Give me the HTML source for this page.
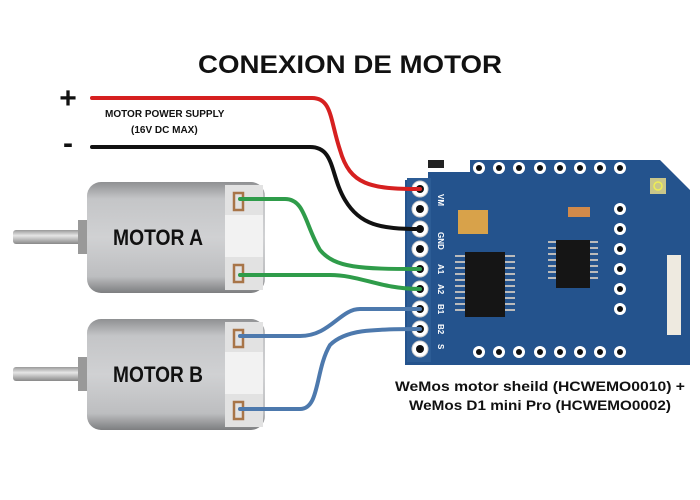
<!DOCTYPE html>
<html><head><style>
body{margin:0;background:#fff;width:700px;height:500px;overflow:hidden}
svg{display:block}
.t{font-family:"Liberation Sans",sans-serif;font-weight:bold}
</style></head><body>
<svg width="700" height="500" viewBox="0 0 700 500">
<defs>
<linearGradient id="mg" x1="0" y1="0" x2="0" y2="1">
<stop offset="0" stop-color="#8f9092"/><stop offset="0.15" stop-color="#c4c5c7"/><stop offset="0.5" stop-color="#d0d1d3"/><stop offset="0.85" stop-color="#bdbec0"/><stop offset="1" stop-color="#7d7e80"/></linearGradient>
<linearGradient id="sg" x1="0" y1="0" x2="0" y2="1">
<stop offset="0" stop-color="#999"/><stop offset="0.4" stop-color="#e6e6e6"/><stop offset="1" stop-color="#888"/></linearGradient>
</defs>
<text x="350" y="73" text-anchor="middle" class="t" font-size="25" fill="#111" textLength="304" lengthAdjust="spacingAndGlyphs">CONEXION DE MOTOR</text>
<text x="68" y="108" text-anchor="middle" class="t" font-size="30" fill="#111">+</text>
<text x="68" y="153" text-anchor="middle" class="t" font-size="30" fill="#111">-</text>
<text x="105" y="117" class="t" font-size="10" fill="#111">MOTOR POWER SUPPLY</text>
<text x="131" y="133" class="t" font-size="10" fill="#111">(16V DC MAX)</text>
<!-- board -->
<path d="M405 180 L428 180 L428 172 L470 172 L470 160 L660 160 L690 190 L690 365 L405 365 Z" fill="#24538d"/>
<rect x="428" y="160" width="16" height="8" fill="#222"/>
<rect x="407" y="178" width="24" height="184" fill="#2c5c95"/>
<g fill="#fff" stroke="#ccc" stroke-width="1">
<circle cx="420" cy="189" r="8"/><circle cx="420" cy="209" r="8"/><circle cx="420" cy="229" r="8"/><circle cx="420" cy="249" r="8"/><circle cx="420" cy="269" r="8"/><circle cx="420" cy="289" r="8"/><circle cx="420" cy="309" r="8"/><circle cx="420" cy="329" r="8"/><circle cx="420" cy="349" r="8"/>
</g>
<g fill="#111">
<circle cx="420" cy="189" r="4"/><circle cx="420" cy="209" r="4"/><circle cx="420" cy="229" r="4"/><circle cx="420" cy="249" r="4"/><circle cx="420" cy="269" r="4"/><circle cx="420" cy="289" r="4"/><circle cx="420" cy="309" r="4"/><circle cx="420" cy="329" r="4"/><circle cx="420" cy="349" r="4"/>
</g>
<g fill="#fff"><g id="tp">
<circle cx="479" cy="168" r="6"/><circle cx="499" cy="168" r="6"/><circle cx="519" cy="168" r="6"/><circle cx="540" cy="168" r="6"/><circle cx="560" cy="168" r="6"/><circle cx="580" cy="168" r="6"/><circle cx="600" cy="168" r="6"/><circle cx="620" cy="168" r="6"/></g>
<use href="#tp" y="184"/>
<circle cx="620" cy="209" r="6"/><circle cx="620" cy="229" r="6"/><circle cx="620" cy="249" r="6"/><circle cx="620" cy="269" r="6"/><circle cx="620" cy="289" r="6"/><circle cx="620" cy="309" r="6"/>
</g>
<g fill="#111"><g id="tq">
<circle cx="479" cy="168" r="3"/><circle cx="499" cy="168" r="3"/><circle cx="519" cy="168" r="3"/><circle cx="540" cy="168" r="3"/><circle cx="560" cy="168" r="3"/><circle cx="580" cy="168" r="3"/><circle cx="600" cy="168" r="3"/><circle cx="620" cy="168" r="3"/></g>
<use href="#tq" y="184"/>
<circle cx="620" cy="209" r="3"/><circle cx="620" cy="229" r="3"/><circle cx="620" cy="249" r="3"/><circle cx="620" cy="269" r="3"/><circle cx="620" cy="289" r="3"/><circle cx="620" cy="309" r="3"/>
</g>
<rect x="458" y="210" width="30" height="24" fill="#d8a24a"/>
<rect x="465" y="252" width="40" height="65" fill="#151515"/>
<g stroke="#bbb" stroke-width="2"><path d="M455 256h10M455 262h10M455 268h10M455 274h10M455 280h10M455 286h10M455 292h10M455 298h10M455 304h10M455 310h10M505 256h10M505 262h10M505 268h10M505 274h10M505 280h10M505 286h10M505 292h10M505 298h10M505 304h10M505 310h10M548 242h8M548 248h8M548 254h8M548 260h8M548 266h8M548 272h8M548 278h8M590 242h8M590 248h8M590 254h8M590 260h8M590 266h8M590 272h8M590 278h8"/></g>
<rect x="556" y="240" width="34" height="48" fill="#151515"/>
<rect x="568" y="207" width="22" height="10" fill="#d28a4a"/>
<rect x="650" y="178" width="16" height="16" fill="#c9c68a"/><circle cx="658" cy="186" r="4" fill="none" stroke="#ee5" stroke-width="1.5"/>
<rect x="667" y="255" width="14" height="80" fill="#eeeae0"/>
<g class="t" font-size="8" fill="#fff">
<text transform="translate(438,194) rotate(90)">VM</text>
<text transform="translate(438,232) rotate(90)">GND</text>
<text transform="translate(438,264) rotate(90)">A1</text>
<text transform="translate(438,284) rotate(90)">A2</text>
<text transform="translate(438,304) rotate(90)">B1</text>
<text transform="translate(438,324) rotate(90)">B2</text>
<text transform="translate(438,344) rotate(90)">S</text>
</g>
<!-- motors -->
<g id="motor">
<rect x="13" y="230" width="70" height="14" rx="3" fill="url(#sg)"/>
<rect x="78" y="220" width="12" height="34" fill="#999"/>
<rect x="87" y="182" width="178" height="111" rx="14" fill="url(#mg)"/>
<rect x="225" y="185" width="38" height="105" fill="#e2e2e2"/>
<rect x="225" y="215" width="38" height="42" fill="#f2f2f2"/>
<rect x="234" y="193" width="9" height="17" fill="none" stroke="#a87548" stroke-width="2.5"/>
<rect x="234" y="265" width="9" height="17" fill="none" stroke="#a87548" stroke-width="2.5"/>
</g>
<use href="#motor" y="137"/>
<text x="158" y="245" text-anchor="middle" class="t" font-size="22" fill="#111" textLength="90" lengthAdjust="spacingAndGlyphs">MOTOR A</text>
<text x="158" y="382" text-anchor="middle" class="t" font-size="22" fill="#111" textLength="90" lengthAdjust="spacingAndGlyphs">MOTOR B</text>
<!-- wires -->
<g fill="none" stroke-width="4" stroke-linecap="round">
<path d="M92 98 H312 C332 98 330 120 340 150 C350 185 370 189 420 189" stroke="#d62020"/>
<path d="M92 147 H310 C335 147 330 175 345 200 C360 225 380 229 420 229" stroke="#111"/>
<path d="M240 199 H285 C305 199 305 225 320 250 C335 268 360 269 420 269" stroke="#2f9c4a"/>
<path d="M240 275 H330 C360 275 380 289 420 289" stroke="#2f9c4a"/>
<path d="M240 336 H300 C330 336 340 309 360 309 H420" stroke="#4d79ad"/>
<path d="M240 409 H300 C320 409 315 370 330 345 C345 330 370 329 420 329" stroke="#4d79ad"/>
</g>
<text x="540" y="391" text-anchor="middle" class="t" font-size="14" fill="#111" textLength="290" lengthAdjust="spacingAndGlyphs">WeMos motor sheild (HCWEMO0010) +</text>
<text x="540" y="410" text-anchor="middle" class="t" font-size="14" fill="#111" textLength="262" lengthAdjust="spacingAndGlyphs">WeMos D1 mini Pro (HCWEMO0002)</text>
</svg>
</body></html>
